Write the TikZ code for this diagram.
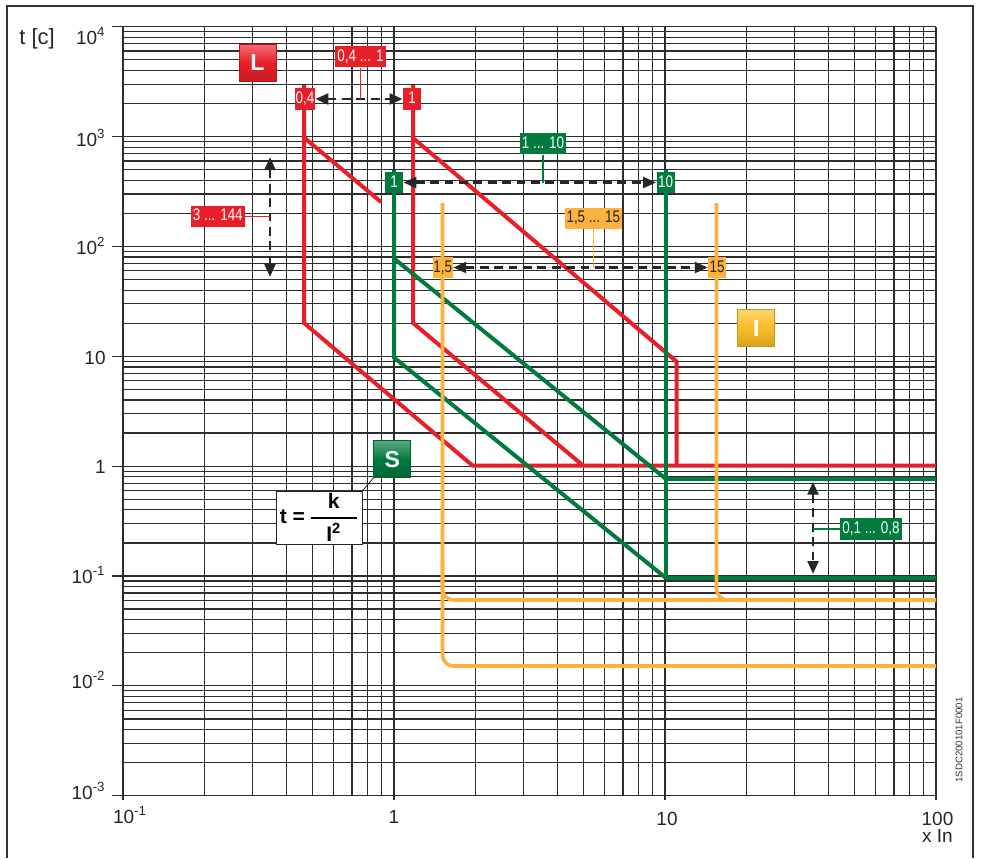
\documentclass[tikz,border=0pt]{standalone}
\usepackage{fontspec}
\setmainfont{Liberation Sans}
\newfontfamily\tagfont[FakeStretch=0.8]{Liberation Sans}
\usetikzlibrary{arrows.meta,positioning,calc}
\definecolor{abbred}{RGB}{232,30,40}
\definecolor{abbgreen}{RGB}{0,122,61}
\definecolor{abborange}{RGB}{251,178,62}
\definecolor{badgeyellow}{RGB}{250,188,36}
\definecolor{gridgray}{RGB}{45,45,45}

\begin{document}
\begin{tikzpicture}[
    x=0.5pt, y=-0.5pt,
    gridline/.style={draw=gridgray, line width=0.6pt},
    redcurve/.style={draw=abbred, line width=2pt},
    greencurve/.style={draw=abbgreen, line width=2pt},
    orangecurve/.style={draw=abborange, line width=1.8pt, rounded corners=5.5pt},
    axislabel/.style={font=\fontsize{9.5pt}{11pt}\selectfont, text=black!85, inner sep=0pt},
    tag/.style={font={\tagfont\fontsize{8.4pt}{9pt}\selectfont}, inner xsep=1pt, inner ysep=1.5pt, text height=6.1pt, text depth=1.6pt},
    smalltag/.style={tag, minimum width=9pt, inner xsep=0.3pt},
    redtag/.style={fill=abbred, text=white},
    greentag/.style={fill=abbgreen, text=white},
    orangetag/.style={fill=abborange, text=black!85},
    lead/.style={draw=#1, line width=0.7pt},
    dimarrow/.style={{Triangle[length=6.5pt,width=5.4pt]}-{Triangle[length=6.5pt,width=5.4pt]}, line width=1.4pt, dash pattern=on 4.4pt off 2.8pt, draw=black!85, fill=black!85},
    badge/.style={minimum size=18.5pt, inner sep=0pt, font=\fontsize{11.5pt}{12pt}\selectfont\bfseries, text=white, top color=#1!65!white, bottom color=#1!85!black, middle color=#1, draw=#1!80!black, line width=0.5pt},
    formula/.style={draw=black!85, fill=white, line width=0.5pt, minimum width=42.8pt, minimum height=26.7pt, inner sep=0pt, font=\fontsize{10.5pt}{12pt}\selectfont\bfseries}
]
    \useasboundingbox (0,0) rectangle (984,858);
    \draw[black!80, line width=0.6pt] (7,858) -- (7,6) -- (973,6) -- (973,858);

    \foreach \d in {-1,0,1} {
        \foreach \k in {1,...,9} {
            \pgfmathsetmacro\gx{394+271*(\d+log10(\k))}
            \draw[gridline] (\gx,26.7) -- (\gx,795.7);
        }
    }
    \draw[gridline] (936,26.7) -- (936,795.7);
    \foreach \d in {-3,...,3} {
        \foreach \k in {1,...,9} {
            \pgfmathsetmacro\gy{466.1-109.86*(\d+log10(\k))}
            \draw[gridline] (123,\gy) -- (936,\gy);
        }
    }
    \draw[gridline] (123,26.7) -- (936,26.7);
    \foreach \d in {-3,...,4} {
        \pgfmathsetmacro\gy{466.1-109.86*\d}
        \draw[gridline] (112,\gy) -- (123,\gy);
    }
    \foreach \gx in {123,394,665,936}
        \draw[gridline] (\gx,795.7) -- (\gx,800);

    \node[axislabel, anchor=base west] (tlabel) at (19,44.5) {\fontsize{11pt}{13pt}\selectfont t [c]};
    \foreach \lbl/\py in {10\textsuperscript{4}/44, 10\textsuperscript{3}/146, 10\textsuperscript{2}/254, 10/364, 1/473, 10\textsuperscript{-1}/583, 10\textsuperscript{-2}/688, 10\textsuperscript{-3}/799}
        \node[axislabel, anchor=base east] at (106,\py) {\lbl};
    \node[axislabel, anchor=base] (xm1) at (130,823) {10\textsuperscript{-1}};
    \node[axislabel, anchor=base] (x0) at (394,823) {1};
    \node[axislabel, anchor=base] (x1) at (667,825) {10};
    \node[axislabel, anchor=base] (x2) at (937.5,825) {100};
    \node[axislabel, anchor=base] (xunit) at (937.5,842) {x In};
    \node[font=\fontsize{4.8pt}{5pt}\selectfont, text=black!80, rotate=90, inner sep=0pt] (code) at (959,740) {1SDC200101F0001};

    \draw[redcurve] (304,85) -- (304,323) -- (472.5,465.5) -- (936,465.5);
    \draw[redcurve] (304,137.5) -- (381,202);
    \draw[redcurve] (413,85) -- (413,323) -- (583,465.5);
    \draw[redcurve] (413,138) -- (676.5,361.5) -- (676.5,465.5);

    \draw[greencurve] (394,170) -- (394,357.5) -- (666,578) -- (936,578);
    \draw[greencurve] (394,258.5) -- (666,479) -- (936,479);
    \draw[greencurve] (666,170) -- (666,578);

    \draw[orangecurve] (442.5,203) -- (442.5,666) -- (936,666);
    \draw[orangecurve] (442.5,560) -- (442.5,600) -- (936,600);
    \draw[orangecurve] (716.5,203) -- (716.5,600) -- (936,600);

    \node[smalltag, redtag] (r04) at (305,99) {0,4};
    \node[smalltag, redtag] (r1) at (412,99) {1};
    \node[tag, redtag] (rrange) at (360.5,56.5) {0,4 ... 1};
    \draw[dimarrow] (r04.east) -- (r1.west);
    \draw[lead=abbred] (rrange.south) -- (rrange.south |- r04.east);

    \node[tag, redtag] (trange) at (217.8,216.2) {3 ... 144};
    \coordinate (ttop) at (270,157);
    \coordinate (tbot) at (270,277);
    \draw[dimarrow] (ttop) -- (tbot);
    \draw[lead=abbred] (trange.east) -- (trange.east -| ttop);

    \node[smalltag, greentag] (g1) at (394,182.5) {1};
    \node[smalltag, greentag] (g10) at (665.5,182.5) {10};
    \node[tag, greentag] (grange) at (543,143.7) {1 ... 10};
    \draw[dimarrow] (g1.east) -- (g10.west);
    \draw[lead=abbgreen] (grange.south) -- (grange.south |- g1.east);

    \node[smalltag, orangetag] (o15a) at (442.8,267.5) {1,5};
    \node[smalltag, orangetag] (o15b) at (717.2,267.5) {15};
    \node[tag, orangetag] (orange) at (593.3,218.3) {1,5 ... 15};
    \draw[dimarrow] (o15a.east) -- (o15b.west);
    \draw[lead=abborange] (orange.south) -- (orange.south |- o15a.east);

    \node[tag, greentag] (srange) at (871,528.8) {0,1 ... 0,8};
    \coordinate (stop) at (813,481.7);
    \coordinate (sbot) at (813,574);
    \draw[dimarrow] (stop) -- (sbot);
    \draw[lead=abbgreen] (srange.west) -- (srange.west -| stop);

    \node[badge=abbred] (lbadge) at (257.5,63) {L};
    \node[badge=abbgreen] (sbadge) at (392.3,459.2) {S};
    \node[badge=badgeyellow] (ibadge) at (756.3,328.3) {I};
    \node[formula] (law) at (319.5,517.7) {t =\,$\displaystyle{\hbox to 23pt{\hss k\hss}\above 0.8pt\hbox to 23pt{\hss I\textsuperscript{2}\hss}}$};
    \draw[black!85, line width=0.4pt] (law.north east) -- (sbadge.south west);
\end{tikzpicture}
\end{document}
